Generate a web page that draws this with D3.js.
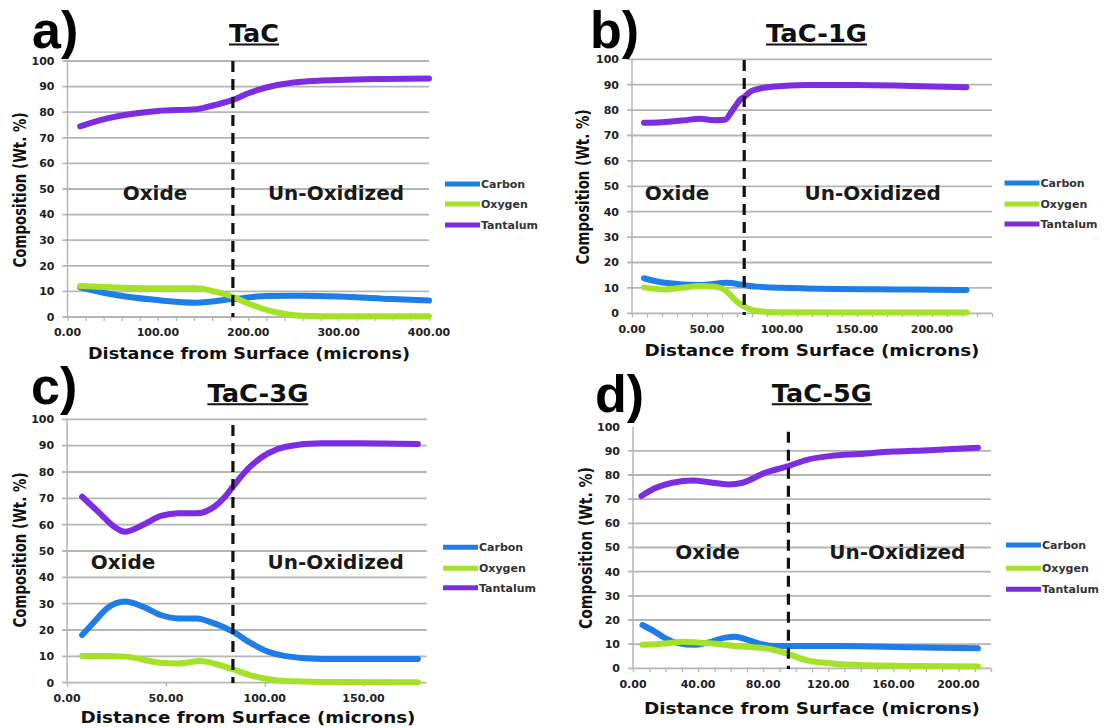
<!DOCTYPE html>
<html><head><meta charset="utf-8">
<script src="https://cdn.jsdelivr.net/npm/d3@7"></script>
<style>html,body{margin:0;padding:0;background:#fff;} svg{display:block;}</style>
</head><body>
<svg id="chart" width="1111" height="728"></svg>
<script>
// ---------- DATA ----------
const panelLetters = ["a)", "b)", "c)", "d)"];
const panelTitles = ["TaC", "TaC-1G", "TaC-3G", "TaC-5G"];
const seriesNames = ["Carbon", "Oxygen", "Tantalum"];
const regionLabels = ["Oxide", "Un-Oxidized"];
const xAxisTitle = "Distance from Surface (microns)";
const yAxisTitle = "Composition (Wt. %)";
const xMax = [400, 240, 182, 220];
const xLabelStep = [100, 50, 50, 40];
const xMinorStep = [20, 10, 50, 10];
const yTicks = [0, 10, 20, 30, 40, 50, 60, 70, 80, 90, 100];
const boundary = [183, 74.8, 83.9, 95.5];

const tacCarbon = [[14,11.6],[44,9.2],[100,6.6],[143,5.6],[183,7],[221,8.2],[260,8.3],[300,8],[359,7],[400,6.4]];
const tacOxygen = [[14,12.1],[100,11.2],[143,11.2],[163,9.9],[183,7.9],[200,5.3],[221,2.7],[241,1.2],[260,0.5],[300,0.3],[400,0.3]];
const tacTantalum = [[14,74.5],[44,77.6],[100,80.5],[143,81.2],[163,82.8],[183,84.8],[200,87.4],[232,90.6],[260,91.9],[300,92.6],[350,93],[400,93.2]];

const tac1gCarbon = [[8,13.8],[22,12],[45,11.1],[63,12],[75,11.1],[83,10.5],[116,9.8],[186,9.4],[223,9.2]];
const tac1gOxygen = [[8,10.2],[22,9.4],[35,10.2],[45,10.7],[55,10.5],[62,9.2],[66.6,6.6],[70,4.6],[75,2.6],[80,1.3],[95,0.4],[150,0.3],[223,0.3]];
const tac1gTantalum = [[8,75],[20,75.2],[35,76],[45,76.6],[55,76],[62,76.2],[66,79],[69,81.6],[72,84],[75,85.3],[79,87.3],[86,88.6],[95,89.3],[116,89.9],[150,89.9],[186,89.5],[223,89]];

const tac3gCarbon = [[7.6,18.1],[13,22.5],[20.2,28.2],[29.3,30.8],[38.3,28.9],[47.4,25.7],[56.4,24.4],[65.4,24.4],[74.5,22.5],[83.9,19.4],[92.6,15.2],[101.6,11.8],[110.6,10.1],[128.7,9],[177.5,9]];
const tac3gOxygen = [[7.6,10.1],[20.2,10.1],[29.3,9.9],[47.4,7.6],[56.4,7.3],[67.2,8.2],[74.5,7.3],[83.9,5.1],[92.6,2.9],[101.6,1.4],[110.6,0.6],[128.7,0.3],[177.5,0.2]];
const tac3gTantalum = [[7.6,70.6],[16.6,64.3],[23.9,59.2],[29.3,57.3],[38.3,59.9],[47.4,63.3],[56.4,64.3],[65.4,64.3],[74.5,66.8],[79.9,70.6],[83.9,74.4],[92.6,82],[101.6,87.1],[110.6,89.6],[128.7,90.9],[146.8,90.9],[177.5,90.6]];

const tac5gCarbon = [[5.8,17.9],[13.4,15.2],[19.9,12.4],[28.5,10.3],[37.1,9.7],[45.8,10.6],[56.6,12.7],[63,13.1],[69.5,12],[78.2,10.1],[89,9.2],[95.5,9.2],[127.9,9.2],[171,8.7],[212,8.3]];
const tac5gOxygen = [[5.8,9.7],[19.9,10.3],[30.7,11],[41.5,10.6],[52.3,10.1],[63,9.2],[73.9,8.7],[84.7,7.9],[95.5,5.9],[106.3,3.4],[117.1,2.3],[138.7,1.4],[171,1],[212,0.7]];
const tac5gTantalum = [[5.2,71.3],[13.4,74.5],[24.2,76.8],[37.1,77.7],[45.8,77.1],[58.7,76.1],[67.4,76.8],[80.3,80.7],[95.5,83.7],[106.3,86.2],[121.4,87.9],[138.7,88.7],[160.3,89.7],[181.9,90.3],[212,91.3]];

const panelSeries = [
  [tacCarbon, tacOxygen, tacTantalum],
  [tac1gCarbon, tac1gOxygen, tac1gTantalum],
  [tac3gCarbon, tac3gOxygen, tac3gTantalum],
  [tac5gCarbon, tac5gOxygen, tac5gTantalum]
];

// ---------- LAYOUT / STYLE ----------
const colors = ["#1e7de6", "#a5e128", "#7d2de1"];
const FONT = "'DejaVu Sans', sans-serif";
const layout = [
 {x0:67.5, x1:429, yTop:61, yBot:317, dashTop:61, dashBot:317, legX:445, legY:[184,204,225], oxX:155, unX:336, regY:193, titleX:254, titleY:42, titleLen:50, labX:32, labY:48, yTitleX:20, yTitleY:190, yTitleLen:155, xTitleX:249, xTitleY:353, xTitleLen:322, grid100:true},
 {x0:632, x1:992, yTop:59.3, yBot:313.3, dashTop:60, dashBot:315, legX:1004.5, legY:[183,204,224], oxX:677, unX:872.7, regY:192.7, titleX:816.5, titleY:42, titleLen:101, labX:590, labY:48, yTitleX:583, yTitleY:187, yTitleLen:155, xTitleX:812, xTitleY:350.7, xTitleLen:335, grid100:true},
 {x0:67.1, x1:426.8, yTop:419.3, yBot:682.7, dashTop:425, dashBot:683, legX:443, legY:[547.3,568.3,587.7], oxX:123, unX:335.7, regY:561.7, titleX:257.9, titleY:401.7, titleLen:101, labX:31, labY:404, yTitleX:20, yTitleY:550, yTitleLen:155, xTitleX:248, xTitleY:717.3, xTitleLen:335, grid100:true},
 {x0:633, x1:991, yTop:426.7, yBot:668.3, dashTop:431.7, dashBot:669, legX:1006, legY:[545,568.3,589.3], oxX:707.6, unX:897.3, regY:551.7, titleX:821.8, titleY:401.7, titleLen:100, labX:595, labY:412, yTitleX:586, yTitleY:548, yTitleLen:162, xTitleX:812, xTitleY:708.3, xTitleLen:336, grid100:false}
];

const svg = d3.select("#chart");

panelSeries.forEach((series, i) => {
  const L = layout[i];
  const g = svg.append("g");
  const x = d3.scaleLinear().domain([0, xMax[i]]).range([L.x0, L.x1]);
  const y = d3.scaleLinear().domain([0, 100]).range([L.yBot, L.yTop]);

  // gridlines
  g.selectAll(".grid").data(yTicks.filter(v => v > 0 && (v < 100 || L.grid100))).enter()
    .append("line")
    .attr("x1", L.x0 - 5).attr("x2", L.x1)
    .attr("y1", d => y(d)).attr("y2", d => y(d))
    .attr("stroke", "#b5b5b5").attr("stroke-width", 1.8);

  // y axis line
  g.append("line").attr("x1", L.x0).attr("x2", L.x0).attr("y1", y(100)).attr("y2", y(0))
    .attr("stroke", "#b5b5b5").attr("stroke-width", 1.5);

  // x axis with minor ticks
  const minor = d3.range(0, xMax[i] + 0.001, xMinorStep[i]);
  const xAxis = d3.axisBottom(x).tickValues(minor).tickSize(4).tickFormat("");
  const xa = g.append("g").attr("transform", `translate(0,${L.yBot})`).call(xAxis);
  xa.select(".domain").attr("stroke", "#b5b5b5").attr("stroke-width", 1.8)
    .attr("d", `M${L.x0 - 5},0H${L.x1}`);
  xa.selectAll(".tick line").attr("stroke", "#b5b5b5").attr("stroke-width", 1.3);

  // x tick labels
  const labs = d3.range(0, xMax[i] + 0.001, xLabelStep[i]);
  g.selectAll(".xl").data(labs).enter().append("text")
    .attr("x", d => x(d)).attr("y", L.yBot + 15.5)
    .attr("text-anchor", "middle").attr("dy", "0.35em")
    .style("font-family", FONT).style("font-weight", "bold").style("font-size", "11px")
    .attr("fill", "#222").text(d => d3.format(".2f")(d));

  // y tick labels
  g.selectAll(".yl").data(yTicks).enter().append("text")
    .attr("x", L.x0 - 13).attr("y", d => y(d))
    .attr("text-anchor", "end").attr("dy", "0.35em")
    .style("font-family", FONT).style("font-weight", "bold").style("font-size", "11px")
    .attr("fill", "#222").text(d => d);

  // region labels
  [L.oxX, L.unX].forEach((cx, k) => {
    g.append("text").attr("x", cx).attr("y", L.regY).attr("dy", "0.35em")
      .attr("text-anchor", "middle")
      .style("font-family", FONT).style("font-weight", "bold").style("font-size", "20px")
      .attr("fill", "#1a1a1a").text(regionLabels[k]);
  });

  // series lines
  const line = d3.line().x(d => x(d[0])).y(d => y(d[1])).curve(d3.curveMonotoneX);
  series.forEach((s, k) => {
    g.append("path").datum(s).attr("d", line)
      .attr("fill", "none").attr("stroke", colors[k]).attr("stroke-width", 6)
      .attr("stroke-linecap", "round").attr("stroke-linejoin", "round");
  });

  // boundary dashed line
  g.append("line").attr("x1", x(boundary[i])).attr("x2", x(boundary[i]))
    .attr("y1", L.dashTop).attr("y2", L.dashBot)
    .attr("stroke", "#111").attr("stroke-width", 3.2).attr("stroke-dasharray", "11,7");

  // legend
  seriesNames.forEach((nm, k) => {
    g.append("line").attr("x1", L.legX).attr("x2", L.legX + 35)
      .attr("y1", L.legY[k]).attr("y2", L.legY[k])
      .attr("stroke", colors[k]).attr("stroke-width", 5);
    g.append("text").attr("x", L.legX + 36).attr("y", L.legY[k]).attr("dy", "0.35em")
      .style("font-family", FONT).style("font-weight", "bold").style("font-size", "11px")
      .attr("fill", "#333").text(nm);
  });

  // panel title, underlined
  g.append("text").attr("x", L.titleX).attr("y", L.titleY).attr("text-anchor", "middle")
    .attr("textLength", L.titleLen).attr("lengthAdjust", "spacingAndGlyphs")
    .style("font-family", FONT).style("font-weight", "bold").style("font-size", "24px")
    .attr("fill", "#111").text(panelTitles[i]);
  g.append("line").attr("x1", L.titleX - L.titleLen / 2).attr("x2", L.titleX + L.titleLen / 2)
    .attr("y1", L.titleY + 2.5).attr("y2", L.titleY + 2.5)
    .attr("stroke", "#111").attr("stroke-width", 2);

  // panel letter
  g.append("text").attr("x", L.labX).attr("y", L.labY)
    .style("font-family", "'Liberation Sans', Arial, sans-serif").style("font-weight", "bold").style("font-size", "52px")
    .attr("fill", "#000").text(panelLetters[i]);

  // axis titles
  g.append("text").attr("transform", `translate(${L.yTitleX},${L.yTitleY}) rotate(-90)`)
    .attr("text-anchor", "middle").attr("dy", "0.35em")
    .attr("textLength", L.yTitleLen).attr("lengthAdjust", "spacingAndGlyphs")
    .style("font-family", FONT).style("font-weight", "bold").style("font-size", "17px")
    .attr("fill", "#111").text(yAxisTitle);
  g.append("text").attr("x", L.xTitleX).attr("y", L.xTitleY).attr("dy", "0.35em")
    .attr("text-anchor", "middle")
    .attr("textLength", L.xTitleLen).attr("lengthAdjust", "spacingAndGlyphs")
    .style("font-family", FONT).style("font-weight", "bold").style("font-size", "16px")
    .attr("fill", "#111").text(xAxisTitle);
});
</script>
</body></html>
